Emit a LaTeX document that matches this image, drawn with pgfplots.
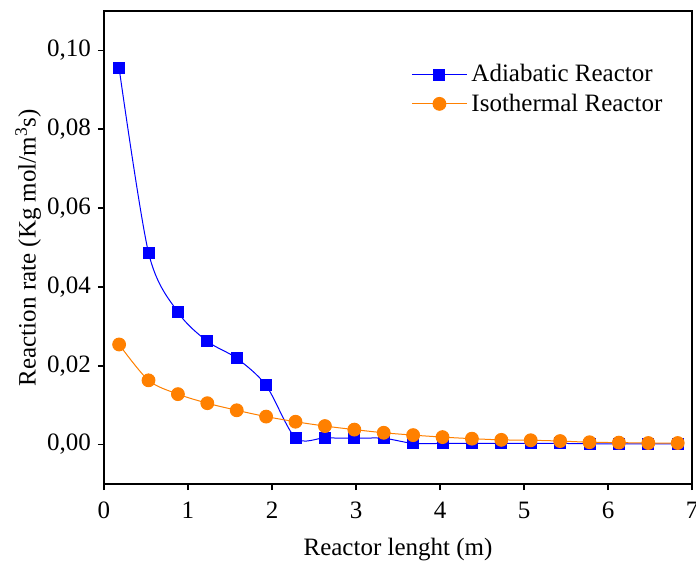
\documentclass[border=0pt]{standalone}
\usepackage{fontspec}
\setmainfont{Liberation Serif}
\usepackage{pgfplots}
\pgfplotsset{compat=1.18}
\definecolor{myorange}{RGB}{255,128,0}
\begin{document}
\begin{tikzpicture}
\begin{axis}[
  name=ax,
  scale only axis,
  width=294pt, height=236.5pt,
  xmin=0, xmax=7, ymin=-0.01, ymax=0.11,
  axis lines=box,
  xtick={0,1,2,3,4,5,6,7},
  ytick={0,0.02,0.04,0.06,0.08,0.10},
  tick align=outside,
  tick pos=left,
  major tick length=3pt,
  axis line style={line width=0.9pt, black},
  every tick/.style={line width=0.8pt, black},
  /pgf/number format/assume math mode=true,
  tick label style={font=\fontsize{12.5}{14}\selectfont},
  yticklabel style={/pgf/number format/.cd, fixed, fixed zerofill, precision=2, use comma},
  xticklabel style={yshift=-2.4pt, /pgf/number format/.cd, fixed, precision=0},
  label style={font=\fontsize{12.5}{14}\selectfont},
  scaled y ticks=false,
  xlabel={Reactor lenght (m)},
  ylabel={Reaction rate (Kg mol/m\textsuperscript{3}s)},
  xlabel style={at={(axis description cs:0.5,-0.1395)}, anchor=center},
  ylabel style={at={(axis description cs:-0.129,0.5)}, anchor=center},
  legend style={draw=none, fill=none, at={(0.512,0.905)}, anchor=north west, font=\fontsize{12.5}{14}\selectfont, row sep=0.5pt},
  legend cell align=left,
  legend image code/.code={\draw[mark repeat=2,mark phase=2] plot coordinates {(0pt,0pt) (13.75pt,0pt) (27.5pt,0pt)};},
]
\addplot[blue, line width=0.5pt, smooth, tension=0.5, mark=square*, mark size=2.75pt, mark options={solid, fill=blue, draw=blue}] coordinates {
(0.18,0.0955) (0.53,0.0487) (0.88,0.0336) (1.23,0.0262) (1.58,0.0219) (1.93,0.0150)
(2.28,0.0017) (2.63,0.0017) (2.98,0.0016) (3.33,0.0016) (3.68,0.0003) (4.03,0.0003)
(4.38,0.0003) (4.73,0.0003) (5.08,0.0003) (5.43,0.0003) (5.78,0.0002) (6.13,0.0002)
(6.48,0.0002) (6.83,0.0002)
};
\addlegendentry{Adiabatic Reactor}
\addplot[myorange, line width=0.5pt, smooth, tension=0.5, mark=*, mark size=3.2pt, mark options={solid, fill=myorange, draw=myorange}] coordinates {
(0.18,0.0254) (0.53,0.0163) (0.88,0.0128) (1.23,0.0105) (1.58,0.0087) (1.93,0.0071)
(2.28,0.0058) (2.63,0.0047) (2.98,0.0038) (3.33,0.0030) (3.68,0.0024) (4.03,0.0019)
(4.38,0.0015) (4.73,0.0012) (5.08,0.0011) (5.43,0.0009) (5.78,0.0006) (6.13,0.0005)
(6.48,0.0004) (6.83,0.0004)
};
\addlegendentry{Isothermal Reactor}
\end{axis}
\draw[line width=0.9pt, black] (ax.south west) rectangle (ax.north east);
\pgfresetboundingbox
\path ([xshift=-52pt,yshift=-42pt]ax.south west) rectangle ([xshift=2pt,yshift=5.5pt]ax.north east);
\end{tikzpicture}
\end{document}
